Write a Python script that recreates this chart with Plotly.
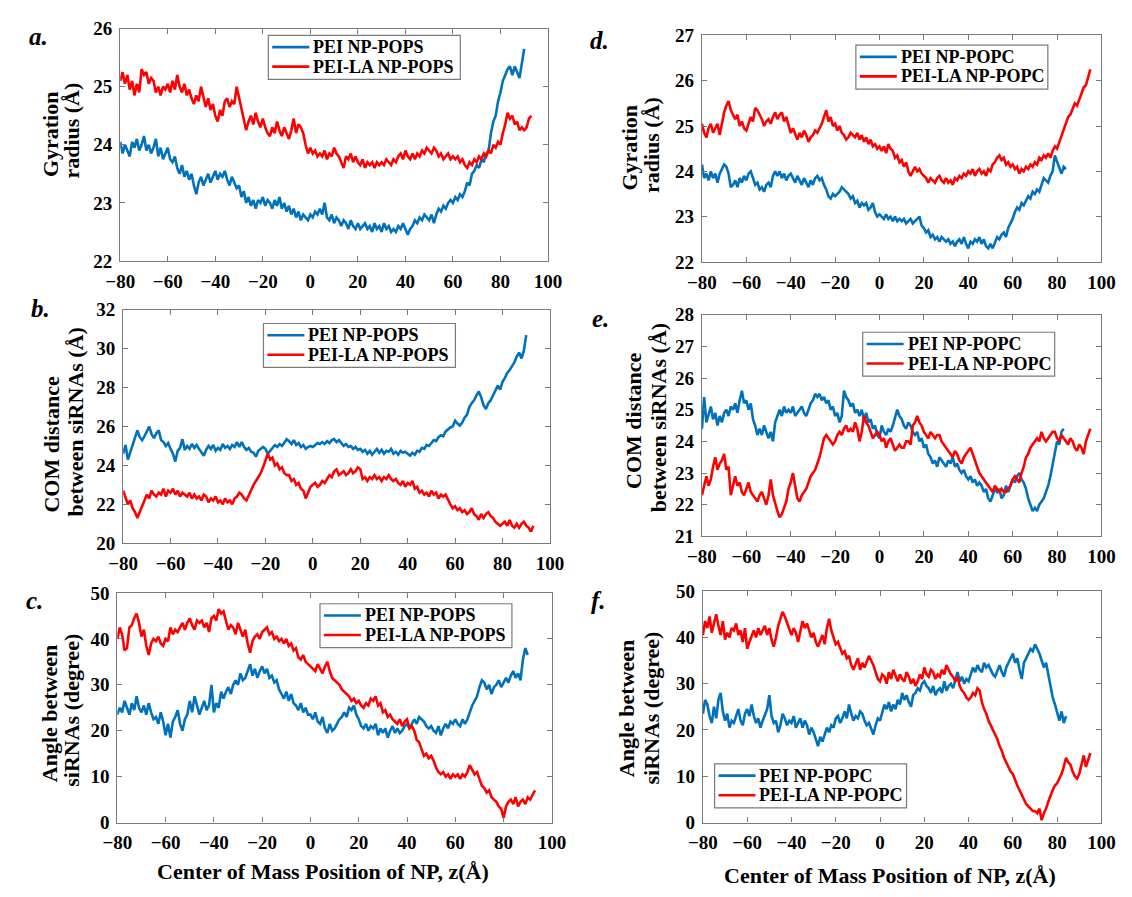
import plotly.graph_objects as go

W, H = 1132, 897

# ---------------------------------------------------------------- data
# NP centre-of-mass position z (Å), sampled every 1 Å starting at -80
Z_START = -80
X_TICKS = [-80, -60, -40, -20, 0, 20, 40, 60, 80, 100]

# (a) gyration radius, POPS
rg_pops_pei = [
    24.05, 23.85, 24.0, 23.9, 23.8, 24.05, 23.95, 24.1, 23.9, 24.0,
    24.15, 23.9, 24.0, 23.85, 23.95, 24.1, 23.8, 23.95, 23.75, 23.85,
    23.95, 23.75, 23.7, 23.8, 23.6, 23.5, 23.65, 23.45, 23.55, 23.4,
    23.5, 23.3, 23.15, 23.35, 23.45, 23.3, 23.4, 23.5, 23.35, 23.45,
    23.55, 23.4, 23.5, 23.45, 23.55, 23.4, 23.3, 23.45, 23.35, 23.25,
    23.3, 23.1, 23.2, 23.0, 23.1, 22.95, 23.05, 22.9, 23.05, 23.0,
    23.1, 22.95, 23.05, 23.0, 22.9, 23.05, 22.95, 23.1, 22.9, 23.0,
    22.85, 22.95, 22.8, 22.9, 22.75, 22.85, 22.7, 22.8, 22.75, 22.7,
    22.8, 22.75, 22.85, 22.8, 22.9, 22.8, 23.0, 22.75, 22.7, 22.8,
    22.65, 22.75, 22.7, 22.6, 22.7, 22.65, 22.55, 22.7, 22.6, 22.55,
    22.65, 22.55, 22.6, 22.65, 22.55, 22.6, 22.5, 22.65, 22.55, 22.6,
    22.5, 22.65, 22.55, 22.6, 22.5, 22.55, 22.5, 22.6, 22.55, 22.65,
    22.55, 22.45, 22.55, 22.6, 22.7, 22.65, 22.75, 22.7, 22.8, 22.75,
    22.7, 22.8, 22.65, 22.8, 22.9, 22.85, 22.95, 22.9, 23.0, 23.05,
    23.0, 23.1, 23.05, 23.15, 23.1, 23.2, 23.35, 23.3, 23.5, 23.55,
    23.65, 23.6, 23.75, 23.7, 23.85, 23.9, 24.2, 24.4, 24.5, 24.75,
    24.9, 25.1, 25.2, 25.3, 25.35, 25.2, 25.35, 25.25, 25.15, 25.4, 25.65,
]
rg_pops_la = [
    25.1, 25.25, 25.05, 25.2, 24.95, 25.1, 24.85, 25.05, 24.9, 25.3,
    25.2, 25.25, 25.05, 25.15, 25.1, 24.9, 25.0, 24.85, 25.0, 24.95,
    25.05, 24.9, 25.1, 24.95, 25.2, 25.0, 24.9, 25.05, 24.85, 24.95,
    24.8, 24.7, 24.85, 24.75, 25.0, 24.8, 24.65, 24.8, 24.6, 24.7,
    24.5, 24.4, 24.6, 24.5, 24.75, 24.8, 24.65, 24.75, 24.7, 25.0,
    24.8, 24.6, 24.45, 24.25, 24.4, 24.5, 24.35, 24.55, 24.4, 24.3,
    24.45, 24.3, 24.2, 24.15, 24.3, 24.2, 24.4, 24.25, 24.15, 24.3,
    24.2, 24.1, 24.25, 24.45, 24.2, 24.35, 24.3, 24.2, 24.0, 23.85,
    23.95, 23.85, 23.9, 23.8, 23.85, 23.8, 23.9, 23.75, 23.85, 23.8,
    23.95, 23.85, 23.8, 23.7, 23.6, 23.8, 23.75, 23.85, 23.7, 23.8,
    23.7, 23.65, 23.75, 23.6, 23.7, 23.65, 23.7, 23.6, 23.7, 23.65,
    23.7, 23.65, 23.75, 23.7, 23.65, 23.75, 23.7, 23.8, 23.85, 23.75,
    23.9, 23.8, 23.75, 23.85, 23.75, 23.85, 23.8, 23.9, 23.85, 23.95,
    23.9, 23.85, 23.95, 23.9, 23.8, 23.85, 23.75, 23.8, 23.85, 23.75,
    23.8, 23.75, 23.8, 23.7, 23.75, 23.65, 23.6, 23.7, 23.65, 23.75,
    23.7, 23.8, 23.75, 23.85, 23.8, 23.9, 23.85, 24.0, 23.95, 24.05,
    24.0, 24.2, 24.35, 24.55, 24.45, 24.5, 24.35, 24.4, 24.25, 24.3,
    24.25, 24.3, 24.45, 24.5,
]

# (b) COM distance between siRNAs, POPS
com_pops_pei = [
    24.6, 25.05, 24.3, 24.7, 25.0, 25.4, 25.8, 25.45, 25.3, 25.5,
    25.75, 26.0, 25.6, 25.4, 25.65, 25.8, 25.3, 25.2, 25.0, 25.15,
    24.85, 24.6, 24.2, 24.75, 24.9, 25.35, 24.8, 25.0, 24.85, 25.1,
    24.9, 25.05, 24.85, 24.7, 24.5, 24.8, 25.0, 24.85, 25.05, 24.75,
    24.9, 24.8, 25.1, 24.9, 25.0, 24.85, 25.05, 24.95, 25.2, 24.95,
    25.2, 24.95, 24.8, 24.9, 24.7, 24.65, 24.45, 24.75, 24.85, 24.95,
    24.85, 24.6, 24.75, 24.9, 25.05, 24.95, 25.1, 25.0, 25.2, 25.35,
    25.25, 25.1, 25.3, 25.05, 25.15, 24.95, 25.05, 24.85, 24.95, 25.0,
    24.95, 25.05, 25.15, 25.1, 25.2, 25.1, 25.25, 25.15, 25.3, 25.35,
    25.2, 25.3, 25.15, 25.0, 25.1, 24.95, 25.0, 24.85, 24.95, 24.8,
    24.85, 24.7, 24.8, 24.6, 24.75, 24.55, 24.7, 24.85, 24.65, 24.8,
    24.6, 24.75, 24.7, 24.85, 24.6, 24.7, 24.55, 24.75, 24.65, 24.7,
    24.6, 24.5, 24.65, 24.55, 24.75, 24.7, 24.9, 24.85, 25.05, 25.0,
    25.15, 25.3, 25.25, 25.45, 25.55, 25.5, 25.75, 25.85, 25.95, 26.0,
    26.3, 26.15, 26.05, 26.2, 26.45, 26.6, 27.0, 27.2, 27.35, 27.6,
    27.8, 27.5, 27.1, 26.9, 27.2, 27.35, 27.6, 27.9, 28.1, 27.9,
    28.3, 28.5, 28.75, 28.9, 29.1, 29.3, 29.6, 29.8, 29.5, 29.9, 30.7,
]
com_pops_la = [
    22.7, 22.3, 22.0, 22.2, 21.8, 21.6, 21.3, 21.6, 21.9, 22.3,
    22.5, 22.3, 22.7, 22.5, 22.4, 22.6, 22.5, 22.8, 22.4, 22.7,
    22.6, 22.8, 22.5, 22.7, 22.4, 22.6, 22.5, 22.4, 22.6, 22.3,
    22.5, 22.3, 22.4, 22.2, 22.5, 22.4, 22.1, 22.3, 22.2, 22.4,
    22.1, 22.2, 22.0, 22.3, 22.1, 22.2, 22.0, 22.3, 22.4, 22.6,
    22.5, 22.3, 22.2, 22.5, 22.8, 23.0, 23.2, 23.4, 23.6, 23.9,
    24.2, 24.6, 24.3, 24.4, 24.0, 24.1, 23.8, 23.9, 23.6, 23.5,
    23.5, 23.2, 23.3, 23.0, 23.1, 22.8, 22.7, 22.3, 22.6, 22.9,
    23.0, 23.1, 22.9, 23.0, 23.2, 23.1, 23.3, 23.5, 23.4, 23.7,
    23.8, 23.5, 23.6, 23.7, 23.5, 23.6, 23.8, 23.6, 23.7, 23.9,
    23.8, 23.3, 23.4, 23.2, 23.4, 23.3, 23.5, 23.3, 23.4, 23.2,
    23.4, 23.3, 23.5, 23.3, 23.2, 23.3, 23.1, 23.0, 23.2, 22.9,
    23.1, 23.0, 23.2, 22.8, 22.9, 22.6, 22.7, 22.5, 22.6, 22.4,
    22.7, 22.5, 22.6, 22.3, 22.5, 22.4, 22.5, 22.2, 22.0, 21.8,
    21.9, 21.7, 21.8, 21.6, 21.7, 21.5, 21.6, 21.8, 21.5, 21.4,
    21.2, 21.5, 21.3, 21.5, 21.6, 21.4, 21.3, 21.1, 21.0, 20.9,
    21.0, 21.1, 20.9, 21.2, 20.9, 20.8, 21.0, 20.8, 21.0, 21.1,
    20.9, 20.8, 20.6, 20.9,
]

# (c) angle between siRNAs, POPS
ang_pops_pei = [
    23.5, 25.0, 24.0, 26.5, 25.0, 23.5, 26.0, 24.5, 27.5, 25.0,
    24.0, 25.5, 23.5, 26.0, 24.0, 22.5, 23.0, 21.5, 24.0, 22.0,
    19.0, 21.5, 18.5, 22.0, 23.0, 24.5, 21.5, 20.0, 22.5, 23.5,
    26.5, 24.0, 27.5, 25.5, 23.5, 25.0, 26.5, 24.5, 25.5, 30.0,
    24.0, 26.0, 25.0, 28.5, 27.0, 28.5, 29.5, 28.0, 30.0, 31.0,
    30.0, 32.5, 31.0, 31.5, 33.0, 34.5, 32.0, 33.5, 31.5, 33.0,
    34.0, 32.5, 33.5, 31.5, 32.0, 30.5, 31.0, 29.0, 28.0, 27.0,
    28.5, 26.5, 28.0, 26.0, 25.5, 24.5, 26.0, 24.0, 25.0, 23.5,
    23.5, 22.5, 24.0, 22.0, 21.5, 23.0, 20.5, 19.5, 21.5, 20.0,
    20.5, 21.5, 22.5, 23.0, 24.0, 23.0, 25.0, 24.5, 25.5, 23.5,
    22.5, 21.0, 20.5, 21.5, 20.0, 21.0, 20.5, 21.5, 19.0, 20.5,
    19.5, 20.5, 18.5, 20.0, 21.0, 19.5, 20.5, 19.5, 20.0, 21.0,
    21.5, 20.5, 21.5, 22.5, 21.5, 23.0, 22.5, 22.0, 21.0, 20.5,
    21.0, 20.0, 19.5, 21.0, 19.0, 20.5, 21.5, 20.5, 22.0, 21.5,
    22.5, 21.5, 21.0, 22.5, 21.5, 22.5, 24.0, 25.5, 26.5, 27.5,
    29.5, 31.0, 30.5, 29.0, 30.0, 28.0, 29.5, 30.0, 31.0, 29.5,
    30.5, 31.5, 30.5, 32.0, 33.0, 31.5, 32.5, 31.0, 35.5, 38.0, 36.5,
]
ang_pops_la = [
    40.0, 42.5, 41.0, 37.5, 38.0, 42.5, 43.0, 44.5, 45.5, 43.5,
    40.5, 42.0, 38.5, 36.5, 39.0, 40.0, 39.5, 40.5, 39.0, 38.5,
    40.0, 39.5, 42.5, 41.0, 42.0, 41.5, 42.5, 43.5, 42.0, 43.5,
    44.5, 43.0, 42.0, 44.0, 43.5, 44.0, 42.5, 43.5, 41.5, 44.5,
    45.0, 44.0, 46.5, 45.5, 46.0, 44.0, 42.0, 43.0, 42.5, 41.0,
    43.5, 42.0, 40.5, 42.0, 39.0, 37.0, 39.5, 40.5, 41.0, 40.0,
    41.5, 42.0, 42.5, 41.0, 41.5, 40.0, 40.5, 39.5, 40.0, 39.0,
    40.0, 38.5, 39.0, 37.5, 38.0, 36.0, 35.5, 36.5, 35.0, 34.5,
    34.0, 33.5, 33.0, 34.5, 33.5, 32.5, 34.0, 35.0, 33.0, 31.5,
    31.0, 30.5, 30.0, 29.0, 28.5, 28.0, 27.5, 26.5, 27.0, 26.0,
    26.5, 25.5, 25.0, 26.0, 25.5, 27.0, 26.5, 27.5, 25.5, 26.0,
    24.0, 24.5, 23.0, 23.5, 22.5, 22.0, 21.5, 22.5, 21.0, 22.0,
    22.5, 20.5, 21.0, 20.0, 18.0, 17.5, 16.0, 14.5, 15.0, 14.0,
    14.5, 13.5, 12.0, 11.0, 10.5, 11.0, 10.0, 10.5, 9.5, 10.5,
    10.0, 10.5, 9.5, 10.5, 10.0, 11.0, 12.5, 11.5, 10.5, 11.0,
    9.5, 8.0, 7.5, 6.5, 7.0, 5.5, 5.0, 4.5, 3.5, 3.0,
    1.0, 3.5, 4.5, 5.0, 4.0, 5.5, 3.5, 4.5, 5.0, 4.0,
    5.5, 5.0, 6.0, 7.0,
]

# (d) gyration radius, POPC
rg_popc_pei = [
    24.15, 23.85, 23.95, 23.8, 24.0, 23.85, 23.95, 23.75, 23.95, 24.05,
    24.15, 24.1, 23.95, 23.65, 23.7, 23.8, 23.65, 23.85, 23.75, 23.9,
    23.8, 23.95, 24.0, 23.85, 23.7, 23.75, 23.6, 23.65, 23.55, 23.7,
    23.75, 23.65, 23.9, 24.0, 23.9, 24.0, 23.85, 23.95, 23.8, 23.9,
    23.95, 23.85, 23.75, 23.9, 23.8, 23.7, 23.85, 23.75, 23.65, 23.8,
    23.7, 23.85, 23.9, 23.8, 23.85, 23.7, 23.6, 23.45, 23.4, 23.5,
    23.45, 23.5, 23.55, 23.65, 23.6, 23.55, 23.5, 23.4, 23.45, 23.3,
    23.35, 23.2, 23.3, 23.25, 23.3, 23.15, 23.2, 23.3, 23.1, 23.0,
    23.05, 23.0, 22.95, 23.05, 22.95, 23.0, 22.9, 23.0, 22.9, 22.95,
    22.9, 22.95, 22.85, 22.9, 22.95, 22.85, 22.9, 22.95, 23.0, 22.8,
    22.75, 22.65, 22.7, 22.55, 22.6, 22.5, 22.55, 22.45, 22.55, 22.5,
    22.45, 22.5, 22.4, 22.45, 22.35, 22.45, 22.5, 22.4, 22.55, 22.4,
    22.3, 22.45, 22.4, 22.5, 22.45, 22.55, 22.4, 22.5, 22.35, 22.3,
    22.4, 22.3, 22.45, 22.55, 22.5, 22.6, 22.65, 22.55, 22.75, 22.85,
    22.95, 23.1, 23.2, 23.15, 23.3, 23.25, 23.35, 23.45, 23.4, 23.55,
    23.5, 23.6, 23.55, 23.7, 23.85, 23.8, 23.75, 23.9, 24.0, 24.35,
    24.2, 24.05, 23.95, 24.1, 24.05,
]
rg_popc_la = [
    25.05, 24.85, 24.75, 24.95, 25.05, 24.85, 24.95, 25.05, 24.8, 25.1,
    25.3, 25.45, 25.55, 25.35, 25.25, 25.15, 25.25, 25.0, 25.1, 24.95,
    24.9, 25.05, 25.2, 25.1, 25.4, 25.35, 25.25, 25.15, 25.0, 25.1,
    25.15, 25.05, 25.2, 25.3, 25.15, 25.25, 25.3, 25.1, 25.2, 25.0,
    24.85, 24.95, 24.8, 24.7, 24.85, 24.75, 24.9, 24.8, 24.65, 24.75,
    24.8, 24.9, 24.85, 24.95, 25.05, 25.2, 25.35, 25.1, 25.2, 25.0,
    25.05, 24.9, 25.0, 24.85, 24.8, 24.7, 24.75, 24.85, 24.8, 24.75,
    24.85, 24.7, 24.8, 24.65, 24.75, 24.6, 24.7, 24.55, 24.6, 24.5,
    24.55, 24.45, 24.55, 24.4, 24.6, 24.5, 24.45, 24.3, 24.35, 24.2,
    24.25, 24.1, 24.2, 24.0, 23.9, 24.0, 24.1, 24.0, 24.05, 23.95,
    23.9, 23.85, 23.75, 23.85, 23.8, 23.75, 23.85, 23.9, 23.8, 23.75,
    23.85, 23.75, 23.8, 23.7, 23.85, 23.8, 23.9, 23.85, 23.95, 23.9,
    24.0, 23.95, 24.05, 23.9, 24.0, 24.05, 23.95, 24.0, 23.9, 24.05,
    24.0, 24.15, 24.2, 24.3, 24.35, 24.25, 24.3, 24.15, 24.2, 24.1,
    24.15, 24.05, 24.1, 23.95, 24.05, 24.0, 24.1, 24.05, 24.15, 24.1,
    24.2, 24.15, 24.3, 24.25, 24.35, 24.3, 24.4, 24.3, 24.45, 24.55,
    24.5, 24.65, 24.8, 24.95, 25.1, 25.2, 25.25, 25.4, 25.5, 25.45,
    25.6, 25.75, 25.85, 25.9, 26.05, 26.25,
]

# (e) COM distance between siRNAs, POPC
com_popc_pei = [
    24.4, 25.4, 24.6, 24.9, 25.1, 24.7, 24.9, 24.5, 24.8, 24.6,
    24.9, 25.0, 24.8, 25.1, 25.0, 25.2, 24.9, 25.3, 25.6, 25.2,
    25.3, 25.0, 25.2, 24.7, 24.5, 24.2, 24.4, 24.2, 24.5, 24.3,
    24.1, 24.3, 24.0, 24.6, 24.8, 25.0, 24.8, 25.1, 24.9, 25.0,
    24.9, 25.1, 24.8, 24.9, 25.0, 25.1, 24.9, 24.8, 25.0, 25.2,
    25.3, 25.5, 25.4, 25.5, 25.3, 25.4, 25.2, 25.3, 25.0, 25.1,
    24.8, 24.9, 24.6, 24.8, 25.6, 25.4, 25.3, 25.1, 25.2, 24.9,
    25.0, 24.8, 25.0, 24.7, 24.9, 24.6, 24.7, 24.4, 24.5, 24.2,
    24.1, 24.5, 24.3, 24.2, 24.4, 24.3, 24.5, 24.8, 25.0, 24.8,
    24.7, 24.5, 24.4, 24.6, 24.5, 24.3, 24.2, 24.3, 24.0, 24.1,
    23.8, 23.9, 23.6, 23.5, 23.3, 23.4, 23.2, 23.5, 23.4, 23.3,
    23.2, 23.4, 23.3, 23.5, 23.2, 23.3, 23.1, 23.0, 23.1, 22.9,
    22.8, 22.9, 22.7, 22.8, 22.6, 22.7, 22.6, 22.4, 22.5, 22.2,
    22.1, 22.3, 22.5, 22.4, 22.5, 22.2, 22.3, 22.6, 22.4, 22.6,
    22.8, 22.7, 22.9, 23.0, 22.8, 22.7, 22.5, 22.2, 22.0, 21.8,
    21.9, 21.8, 22.0, 22.1, 22.2, 22.4, 22.6, 22.9, 23.3, 23.6,
    24.0, 23.9, 24.3, 24.4,
]
com_popc_la = [
    22.3, 22.6, 22.9, 22.6, 22.8, 23.2, 23.5, 23.1, 23.3, 23.4,
    23.6, 23.1, 23.2, 22.3, 22.6, 22.9, 22.6, 22.7, 22.4, 22.3,
    22.5, 22.7, 22.4, 22.3, 22.2, 22.1, 22.3, 22.4, 22.2, 22.0,
    22.3, 22.8, 22.3, 22.0, 21.8, 21.6, 21.7, 21.9, 22.1, 22.5,
    22.7, 23.0, 22.6, 22.2, 22.1, 22.3, 22.4, 22.5, 22.7, 22.9,
    23.0, 23.1, 23.3, 23.5, 23.8, 24.1, 24.2, 24.1, 24.0, 23.9,
    24.0, 24.2, 24.3, 24.2, 24.4, 24.5, 24.3, 24.4, 24.3, 24.6,
    24.4, 24.0, 24.3, 24.8, 24.6, 24.5, 24.3, 24.1, 24.2, 24.3,
    24.2, 24.0, 24.1, 23.8, 24.0, 24.1, 23.9, 23.7, 23.8, 23.9,
    23.8, 23.8, 24.0, 24.0, 23.9, 24.5, 24.6, 24.8, 24.6, 24.5,
    24.3, 24.2, 24.1, 24.3, 24.2, 24.1, 24.2, 24.2, 24.0, 23.9,
    23.8, 23.7, 23.6, 23.5, 23.7, 23.6, 23.4, 23.3, 23.5, 23.6,
    23.7, 23.8, 23.6, 23.4, 23.2, 23.0, 22.9, 22.8, 22.7, 22.6,
    22.5, 22.4, 22.6, 22.5, 22.4, 22.5, 22.4, 22.4, 22.5, 22.6,
    22.8, 22.9, 22.8, 22.7, 23.0, 23.2, 23.5, 23.6, 23.8, 23.9,
    24.0, 24.1, 24.0, 24.3, 24.1, 24.0, 24.1, 24.2, 24.3, 24.3,
    24.1, 24.0, 24.2, 24.1, 24.0, 23.9, 24.1, 24.0, 23.8, 23.7,
    23.9, 23.8, 23.6, 24.0, 24.2, 24.4,
]

# (f) angle between siRNAs, POPC
ang_popc_pei = [
    23.5, 26.5, 25.5, 23.0, 21.5, 25.0, 22.5, 26.5, 28.0, 24.0,
    22.0, 23.5, 20.5, 22.0, 21.5, 23.0, 24.5, 22.0, 21.0, 23.5,
    24.5, 23.0, 25.5, 23.0, 21.5, 22.5, 20.5, 22.0, 23.5, 24.5,
    27.5, 23.0, 21.5, 22.0, 19.5, 21.0, 23.5, 22.5, 21.0, 22.0,
    21.5, 23.0, 20.5, 21.5, 22.5, 20.5, 22.0, 21.0, 19.0, 20.5,
    19.5, 18.0, 16.5, 18.5, 17.5, 19.0, 20.5, 19.5, 21.0, 20.5,
    22.5, 23.0, 21.5, 22.5, 24.0, 22.5, 25.5, 23.5, 22.0, 23.0,
    22.5, 24.0, 23.5, 22.0, 21.0, 21.5, 20.0, 19.0, 21.0, 22.5,
    22.0, 24.0, 25.5, 24.5, 26.0, 24.0, 25.5, 24.5, 26.5, 25.5,
    28.0, 26.5, 27.5, 26.0, 25.0, 27.5, 28.0, 29.0, 28.5, 30.0,
    30.5, 29.5, 29.0, 28.0, 29.5, 27.5, 28.5, 29.0, 28.0, 30.5,
    28.5, 29.5, 30.0, 29.0, 31.0, 32.5, 30.5, 31.5, 30.0, 31.0,
    30.5, 32.0, 33.5, 32.5, 34.0, 33.0, 32.5, 34.5, 33.5, 34.0,
    33.0, 32.0, 31.5, 33.0, 34.0, 32.5, 31.5, 33.5, 34.5, 35.5,
    36.5, 34.5, 35.5, 33.0, 31.0, 34.5, 35.5, 36.5, 37.5, 37.0,
    38.5, 37.5, 36.5, 35.0, 33.5, 34.5, 32.0, 29.0, 27.0, 25.5,
    23.5, 22.0, 24.0, 21.5, 23.0,
]
ang_popc_la = [
    40.5, 43.5, 42.0, 44.5, 41.0, 43.0, 45.0, 42.5, 40.5, 43.5,
    39.5, 41.0, 40.0, 42.0, 41.5, 43.0, 40.5, 41.5, 39.0, 42.0,
    37.5, 39.0, 40.5, 41.5, 40.0, 42.0, 40.5, 41.5, 42.5, 40.5,
    42.0, 39.5, 38.0, 40.0, 42.5, 44.0, 45.5, 44.5, 43.0, 42.0,
    40.5, 42.0, 41.0, 39.0, 41.5, 43.5, 42.0, 43.0, 41.5, 40.0,
    41.0, 39.0, 38.0, 39.5, 40.5, 38.5, 42.0, 44.0, 41.5, 40.0,
    38.5, 39.0, 37.5, 36.5, 37.0, 35.5, 36.0, 34.0, 33.0, 34.5,
    35.5, 33.0, 34.5, 33.5, 35.0, 36.0, 35.0, 34.0, 32.5, 31.0,
    30.5, 32.0, 31.5, 30.0, 32.5, 31.0, 33.0, 31.5, 30.5, 32.0,
    31.0, 30.5, 32.5, 31.5, 30.0, 31.0, 29.5, 30.5, 32.0, 31.0,
    33.5, 32.0, 31.5, 33.0, 32.5, 31.0, 32.0, 31.5, 33.0, 32.0,
    34.0, 33.0, 32.0, 31.5, 30.5, 31.5, 29.5, 28.5, 28.0, 27.0,
    26.5, 27.0, 28.0, 27.5, 29.0, 28.5, 26.0, 24.5, 23.5, 22.0,
    21.0, 20.0, 19.0, 18.0, 16.5, 15.5, 14.0, 13.0, 12.0, 11.0,
    10.5, 9.0, 8.0, 7.0, 6.0, 5.0, 4.0, 3.5, 3.0, 2.5,
    2.5, 2.0, 3.0, 0.5, 2.0, 3.0, 4.5, 6.0, 7.0, 8.0,
    8.5, 9.5, 10.5, 12.0, 14.0, 13.0, 12.5, 11.0, 10.0, 9.5,
    10.5, 12.5, 14.5, 12.0, 13.5, 15.0,
]

# ---------------------------------------------------------------- styling
BLUE = "#0072BD"
RED = "#FF0000"
FRAME = "#7a7a7a"
SERIF = "Liberation Serif"

# legend box geometry (px): width, height, sample line span, text start, row offsets
LEG_W, LEG_H = 197, 45
LEG_LINE = (4, 42)
LEG_TEXT = 44
LEG_ROWS = (12, 32)


def px_x(x):
    return x / W


def px_y(y):
    return 1 - y / H


# panel: frame in pixels (left, right, top, bottom), y range, y tick step,
#        y-title lines with their centre positions, legend corner, letter
panels = [
    dict(key="a", frame=(108, 547, 19, 257), yr=(22, 26), dy=1,
         ser=(rg_pops_pei, rg_pops_la), names=("PEI NP-POPS", "PEI-LA NP-POPS"),
         ytitle=[("Gyration", 36, 127), ("radius (Å)", 58, 124)],
         leg=(260, 26), letter=(12, 27)),
    dict(key="b", frame=(111, 549, 307, 546), yr=(20, 32), dy=2,
         ser=(com_pops_pei, com_pops_la), names=("PEI NP-POPS", "PEI-LA NP-POPS"),
         ytitle=[("COM distance", 38, 445), ("between siRNAs (Å)", 62, 422)],
         leg=(255, 321), letter=(14, 306)),
    dict(key="c", frame=(105, 551, 597, 832), yr=(0, 50), dy=10,
         ser=(ang_pops_pei, ang_pops_la), names=("PEI NP-POPS", "PEI-LA NP-POPS"),
         ytitle=[("Angle between", 35, 721), ("siRNAs (degree)", 58, 717)],
         leg=(313, 608), letter=(9, 605)),
    dict(key="d", frame=(705, 1115, 26, 258), yr=(22, 27), dy=1,
         ser=(rg_popc_pei, rg_popc_la), names=("PEI NP-POPC", "PEI-LA NP-POPC"),
         ytitle=[("Gyration", 631, 141), ("radius (Å)", 653, 138)],
         leg=(863, 36), letter=(588, 31)),
    dict(key="e", frame=(705, 1115, 312, 539), yr=(21, 28), dy=1,
         ser=(com_popc_pei, com_popc_la), names=("PEI NP-POPC", "PEI-LA NP-POPC"),
         ytitle=[("COM distance", 634, 420), ("between siRNAs (Å)", 660, 418)],
         leg=(870, 330), letter=(590, 316)),
    dict(key="f", frame=(706, 1115, 595, 832), yr=(0, 50), dy=10,
         ser=(ang_popc_pei, ang_popc_la), names=("PEI NP-POPC", "PEI-LA NP-POPC"),
         ytitle=[("Angle between", 627, 715), ("siRNAs (degree)", 653, 715)],
         leg=(718, 772), letter=(589, 605)),
]

fig = go.Figure()
annotations, shapes = [], []
layout = dict(
    width=W, height=H,
    margin=dict(l=0, r=0, t=0, b=0),
    paper_bgcolor="white", plot_bgcolor="white",
    font=dict(family=SERIF, color="black"),
    showlegend=False,
)

for i, p in enumerate(panels, start=1):
    sfx = "" if i == 1 else str(i)
    left, right, top, bottom = p["frame"]

    for values, name, color in zip(p["ser"], p["names"], (BLUE, RED)):
        z = list(range(Z_START, Z_START + len(values)))
        fig.add_trace(go.Scatter(
            x=z, y=values, mode="lines", name=name,
            line=dict(color=color, width=2.6),
            xaxis=f"x{sfx}", yaxis=f"y{sfx}",
        ))

    axis_common = dict(
        showline=True, linecolor=FRAME, linewidth=1.2, mirror="ticks",
        ticks="inside", ticklen=5, tickcolor=FRAME, tickwidth=1,
        showgrid=False, zeroline=False, fixedrange=True,
        tickfont=dict(family=SERIF, size=19, color="black", weight="bold"),
    )
    layout[f"xaxis{sfx}"] = dict(
        axis_common, domain=[px_x(left), px_x(right)], range=[-80, 100],
        tickvals=X_TICKS, anchor=f"y{sfx}", ticklabelstandoff=3,
    )
    y0, y1 = p["yr"]
    layout[f"yaxis{sfx}"] = dict(
        axis_common, domain=[px_y(bottom), px_y(top)], range=[y0, y1],
        tickvals=list(range(y0, y1 + 1, p["dy"])), anchor=f"x{sfx}",
        ticklabelstandoff=3,
    )

    # boxed legend in the panel
    lx, ly = p["leg"]
    shapes.append(dict(
        type="rect", xref="paper", yref="paper",
        x0=px_x(lx), x1=px_x(lx + LEG_W), y0=px_y(ly + LEG_H), y1=px_y(ly),
        line=dict(color=FRAME, width=1.2), fillcolor="white", layer="above",
    ))
    for name, color, row in zip(p["names"], (BLUE, RED), LEG_ROWS):
        shapes.append(dict(
            type="line", xref="paper", yref="paper",
            x0=px_x(lx + LEG_LINE[0]), x1=px_x(lx + LEG_LINE[1]),
            y0=px_y(ly + row), y1=px_y(ly + row),
            line=dict(color=color, width=2.6), layer="above",
        ))
        annotations.append(dict(
            text=name, x=px_x(lx + LEG_TEXT), y=px_y(ly + row),
            xref="paper", yref="paper", xanchor="left", yanchor="middle",
            showarrow=False,
            font=dict(family=SERIF, size=18, color="black", weight="bold"),
        ))

    for text, cx, cy in p["ytitle"]:
        annotations.append(dict(
            text=text, x=px_x(cx), y=px_y(cy), xref="paper", yref="paper",
            xanchor="center", yanchor="middle", textangle=-90, showarrow=False,
            font=dict(family=SERIF, size=22, color="black", weight="bold"),
        ))

    tx, ty = p["letter"]
    annotations.append(dict(
        text=f"{p['key']}.", x=px_x(tx), y=px_y(ty), xref="paper", yref="paper",
        xanchor="left", yanchor="middle", showarrow=False,
        font=dict(family=SERIF, size=25, color="black", weight="bold",
                  style="italic"),
    ))

# shared x-axis titles under the bottom row
for cx, cy in ((316, 882), (898, 886)):
    annotations.append(dict(
        text="Center of Mass Position of NP, z(Å)", x=px_x(cx), y=px_y(cy),
        xref="paper", yref="paper", xanchor="center", yanchor="middle",
        showarrow=False,
        font=dict(family=SERIF, size=22, color="black", weight="bold"),
    ))

layout["annotations"] = annotations
layout["shapes"] = shapes
fig.update_layout(**layout)
fig.write_html("out.html")
